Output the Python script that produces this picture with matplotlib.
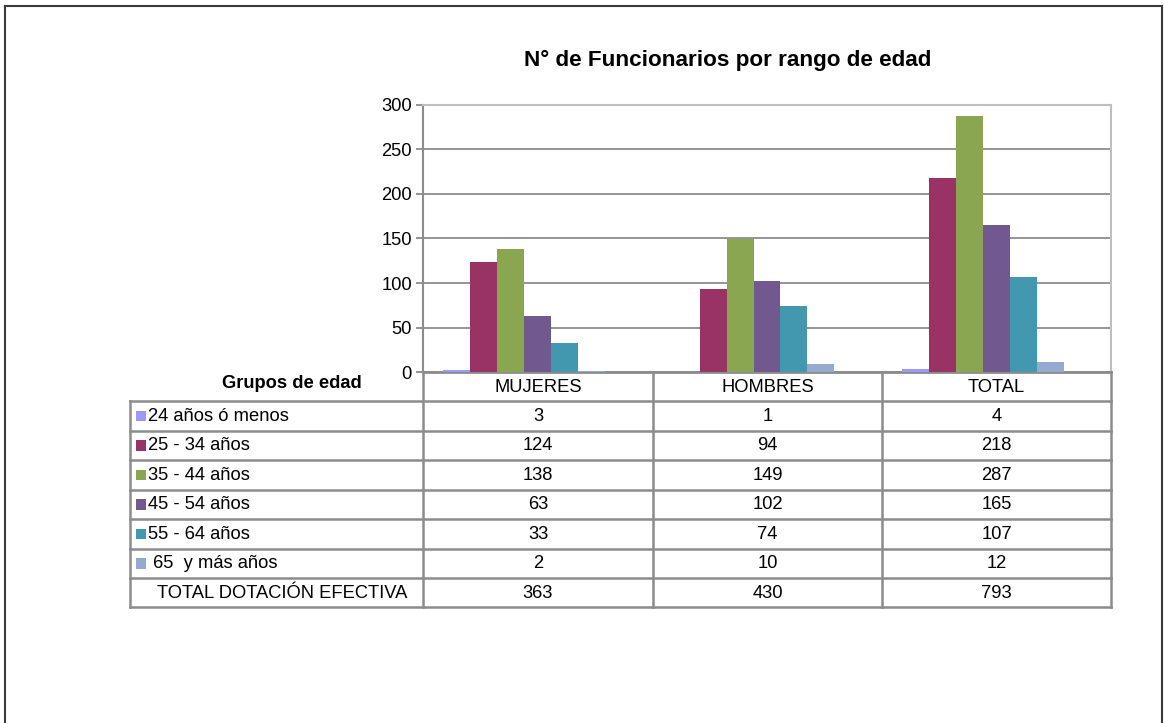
import matplotlib
matplotlib.use("Agg")
import matplotlib.pyplot as plt
from matplotlib.lines import Line2D
from matplotlib.patches import Rectangle

plt.rcParams['font.family'] = ['Liberation Sans', 'DejaVu Sans']

# ---- data ----
title = "N° de Funcionarios por rango de edad"
categories = ["MUJERES", "HOMBRES", "TOTAL"]
series_names = ["24 años ó menos", "25 - 34 años", "35 - 44 años",
                "45 - 54 años", "55 - 64 años", " 65  y más años"]
series_values = [
    [3, 1, 4],
    [124, 94, 218],
    [138, 149, 287],
    [63, 102, 165],
    [33, 74, 107],
    [2, 10, 12],
]
total_name = "TOTAL DOTACIÓN EFECTIVA"
total_values = [363, 430, 793]
colors = ["#9999FF", "#993366", "#8BA650", "#71588F", "#4198AF", "#95A9D1"]
y_ticks = [0, 50, 100, 150, 200, 250, 300]
header_label = "Grupos de edad"

W, H = 1164, 723
fig = plt.figure(figsize=(W / 100, H / 100), dpi=100)


def fx(x):
    return x / W


def fy(y):
    return 1 - y / H


FS = 13.2

# plot area in pixels
L, R, T, B = 423, 1111, 104.5, 372.5
ax = fig.add_axes([fx(L), fy(B), fx(R) - fx(L), fy(T) - fy(B)])

n_slots = len(series_names) + 1  # includes hidden total series slot
bw = 1.0 / (n_slots + 1.5)
for j, (vals, c) in enumerate(zip(series_values, colors)):
    xs = [i + 0.5 + (j - (n_slots - 1) / 2) * bw for i in range(len(categories))]
    ax.bar(xs, vals, width=bw, color=c, linewidth=0, zorder=3)

ax.set_xlim(0, len(categories))
ax.set_ylim(0, 300)
ax.set_yticks(y_ticks)
ax.set_yticklabels([str(t) for t in y_ticks], fontsize=FS)
ax.set_xticks([])
ax.grid(axis='y', color='#8C8C8C', linewidth=1.3, zorder=0)
for s in ['top', 'right']:
    ax.spines[s].set_color('#BFBFBF')
    ax.spines[s].set_linewidth(1.5)
ax.spines['left'].set_color('#8C8C8C')
ax.spines['left'].set_linewidth(1.5)
ax.spines['bottom'].set_color('#8C8C8C')
ax.spines['bottom'].set_linewidth(2)
ax.tick_params(axis='y', length=5, width=1.3, color='#8C8C8C', pad=3)

fig.text(fx(728), fy(60), title, ha='center', va='center',
         fontsize=16.2, fontweight='bold')

# ---- data table ----
grid_c = '#8C8C8C'
lw = 1.8
TL = 130
row_tops = [401, 430.5, 460, 489.5, 519, 548.5, 578, 607]
col_x = [L, 653, 882, R]


def hline(y, x0, x1):
    fig.add_artist(Line2D([fx(x0), fx(x1)], [fy(y), fy(y)], color=grid_c, lw=lw,
                          transform=fig.transFigure))


def vline(x, y0, y1):
    fig.add_artist(Line2D([fx(x), fx(x)], [fy(y0), fy(y1)], color=grid_c, lw=lw,
                          transform=fig.transFigure))


for y in row_tops:
    hline(y, TL, R)
vline(TL, row_tops[0], row_tops[-1])
for x in col_x:
    vline(x, B, row_tops[-1])

# header row
for i, cat in enumerate(categories):
    cx = (col_x[i] + col_x[i + 1]) / 2
    fig.text(fx(cx), fy(388), cat, ha='center', va='center', fontsize=FS)
fig.text(fx(292), fy(384), header_label, ha='center', va='center',
         fontsize=FS, fontweight='bold')

rows = list(zip(series_names, series_values, colors)) + [(total_name, total_values, None)]
for r, (name, vals, c) in enumerate(rows):
    y0, y1 = row_tops[r], row_tops[r + 1]
    cy = (y0 + y1) / 2
    if c is not None:
        sq = 10.5
        fig.add_artist(Rectangle((fx(135.5), fy(cy + sq / 2)), fx(sq), sq / H,
                                 facecolor=c, edgecolor='none',
                                 transform=fig.transFigure))
        fig.text(fx(148), fy(cy + 0.5), name, ha='left', va='center', fontsize=FS)
    else:
        fig.text(fx(282), fy(cy + 0.5), name, ha='center', va='center', fontsize=FS)
    for i, v in enumerate(vals):
        cx = (col_x[i] + col_x[i + 1]) / 2
        fig.text(fx(cx), fy(cy + 0.5), str(v), ha='center', va='center', fontsize=FS)

# outer frame of the chart object
frame_c = '#3A3A3A'
fig.add_artist(Line2D([fx(5), fx(5)], [fy(6), 0], color=frame_c, lw=1.5,
                      transform=fig.transFigure))
fig.add_artist(Line2D([fx(5), fx(1162)], [fy(6), fy(6)], color=frame_c, lw=1.5,
                      transform=fig.transFigure))
fig.add_artist(Line2D([fx(1162), fx(1162)], [fy(6), 0], color=frame_c, lw=1.5,
                      transform=fig.transFigure))

fig.savefig("out.png", dpi=100)
